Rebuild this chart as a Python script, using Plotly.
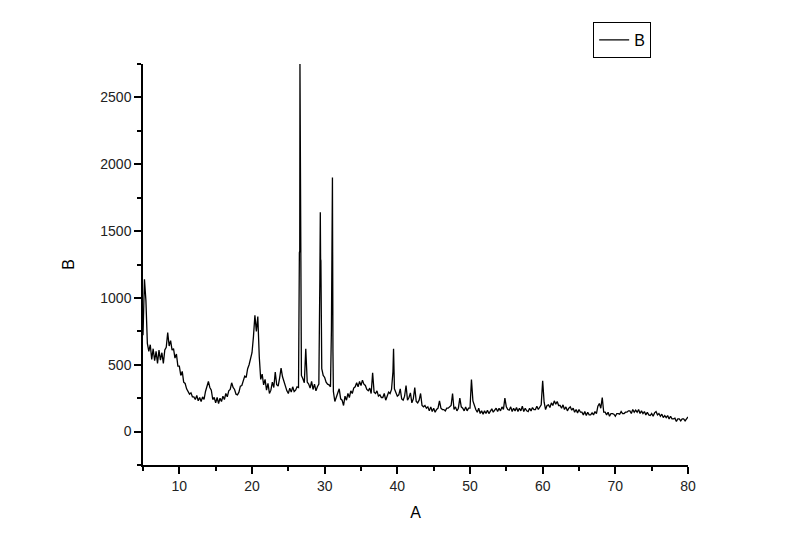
import numpy as np
import plotly.graph_objects as go

# base scan, 2-theta from 5 to 80 in 0.2 steps (one row = one degree)
theta_start = 5.0
theta_step = 0.2
counts = [
    720, 1140, 980, 660, 600,     # 5
    650, 540, 620, 530, 600,      # 6
    510, 610, 535, 590, 510,      # 7
    610, 630, 740, 640, 680,      # 8
    610, 620, 550, 580, 490,      # 9
    490, 420, 450, 370, 360,      # 10
    320, 300, 280, 290, 260,      # 11
    260, 240, 270, 230, 255,      # 12
    225, 260, 240, 300, 330,      # 13
    375, 330, 310, 240, 255,      # 14
    215, 255, 210, 250, 225,      # 15
    265, 240, 285, 260, 305,      # 16
    315, 365, 330, 315, 280,      # 17
    275, 295, 340, 345, 390,      # 18
    415, 405, 470, 500, 540,      # 19
    590, 710, 870, 750, 860,      # 20
    560, 390, 430, 350, 390,      # 21
    310, 360, 285, 310, 370,      # 22
    330, 445, 350, 340, 400,      # 23
    475, 410, 370, 330, 305,      # 24
    285, 325, 295, 335, 300,      # 25
    310, 335, 330, 2750, 420,     # 26
    395, 365, 620, 370, 355,      # 27
    325, 375, 315, 355, 305,      # 28
    335, 355, 1640, 470, 420,     # 29
    405, 370, 355, 350, 335,      # 30
    1450, 300, 225, 255, 275,     # 31
    320, 245, 235, 195, 265,      # 32
    235, 285, 255, 305, 285,      # 33
    325, 335, 365, 335, 375,      # 34
    345, 385, 355, 345, 315,      # 35
    305, 325, 285, 440, 295,      # 36
    285, 305, 265, 275, 255,      # 37
    255, 285, 235, 265, 295,      # 38
    285, 315, 450, 320, 295,      # 39
    265, 275, 320, 245, 235,      # 40
    265, 345, 235, 255, 290,      # 41
    215, 245, 330, 225, 215,      # 42
    235, 285, 195, 185, 195,      # 43
    175, 185, 155, 185, 150,      # 44
    175, 145, 165, 175, 230,      # 45
    175, 165, 165, 155, 175,      # 46
    175, 185, 195, 285, 165,      # 47
    185, 155, 175, 250, 185,      # 48
    175, 155, 185, 155, 175,      # 49
    175, 390, 230, 195, 165,      # 50
    145, 175, 135, 155, 130,      # 51
    155, 135, 160, 135, 155,      # 52
    170, 145, 165, 175, 150,      # 53
    175, 155, 185, 165, 250,      # 54
    185, 165, 160, 185, 150,      # 55
    175, 155, 180, 150, 175,      # 56
    155, 190, 150, 175, 155,      # 57
    150, 175, 155, 180, 165,      # 58
    165, 190, 165, 185, 200,      # 59
    380, 220, 165, 195, 200,      # 60
    180, 215, 195, 230, 205,      # 61
    225, 195, 195, 175, 200,      # 62
    165, 185, 155, 175, 185,      # 63
    160, 175, 145, 165, 140,      # 64
    165, 145, 145, 125, 150,      # 65
    120, 145, 125, 125, 140,      # 66
    125, 150, 135, 190, 210,      # 67
    175, 255, 145, 145, 125,      # 68
    145, 115, 135, 135, 130,      # 69
    115, 135, 135, 130, 150,      # 70
    135, 135, 145, 145, 155,      # 71
    155, 135, 165, 145, 160,      # 72
    145, 165, 135, 155, 135,      # 73
    150, 125, 145, 125, 120,      # 74
    135, 115, 140, 150, 125,      # 75
    135, 115, 130, 105, 120,      # 76
    105, 120, 95, 115, 95,        # 77
    95, 100, 75, 95, 95,          # 78
    80, 95, 95, 80, 100,          # 79
    110,                          # 80
]

# extra points on the sharp reflections (Ka1/Ka2 shoulders)
peak_x = [26.52, 26.57, 26.66, 26.70, 26.74,
          29.34, 29.44, 29.48, 29.52,
          30.93, 31.07, 31.14,
          39.48]
peak_y = [1340, 1350, 1700, 1690, 500,
          1150, 1290, 1280, 600,
          760, 1900, 600,
          620]

base_x = theta_start + theta_step * np.arange(len(counts))
x = np.concatenate([base_x, peak_x])
y = np.concatenate([counts, peak_y])
order = np.argsort(x)
x, y = x[order], y[order]

fig = go.Figure()
fig.add_trace(go.Scatter(x=x, y=y, mode="lines", name="B",
                         line=dict(color="black", width=1.3)))

axis_font = dict(family="Liberation Sans, Arial", size=14, color="#222")
fig.update_layout(
    width=800, height=558,
    margin=dict(l=135, r=120, t=56, b=101),
    plot_bgcolor="white", paper_bgcolor="white",
    showlegend=True,
    legend=dict(x=0.826, y=1.105, xanchor="left", yanchor="top",
                bordercolor="black", borderwidth=1,
                font=dict(family="Liberation Sans, Arial", size=16, color="black"),
                bgcolor="white"),
    xaxis=dict(range=[5, 80], tick0=0, dtick=10, ticks="outside", ticklen=7,
               tickwidth=1.5, tickcolor="black", showline=True, linecolor="black",
               linewidth=1.5, showgrid=False, zeroline=False, tickfont=axis_font,
               minor=dict(dtick=5, tick0=0, ticks="outside", ticklen=4,
                          tickcolor="black", tickwidth=1.5),
               title=dict(text="A", font=dict(family="Liberation Sans, Arial",
                                              size=16, color="black"), standoff=14)),
    yaxis=dict(range=[-250, 2750], tick0=0, dtick=500, ticks="outside", ticklen=7,
               tickwidth=1.5, tickcolor="black", showline=True, linecolor="black",
               linewidth=1.5, showgrid=False, zeroline=False, tickfont=axis_font,
               minor=dict(dtick=250, tick0=0, ticks="outside", ticklen=4,
                          tickcolor="black", tickwidth=1.5),
               title=dict(text="B", font=dict(family="Liberation Sans, Arial",
                                              size=16, color="black"), standoff=22)),
)

fig.write_html("out.html")
